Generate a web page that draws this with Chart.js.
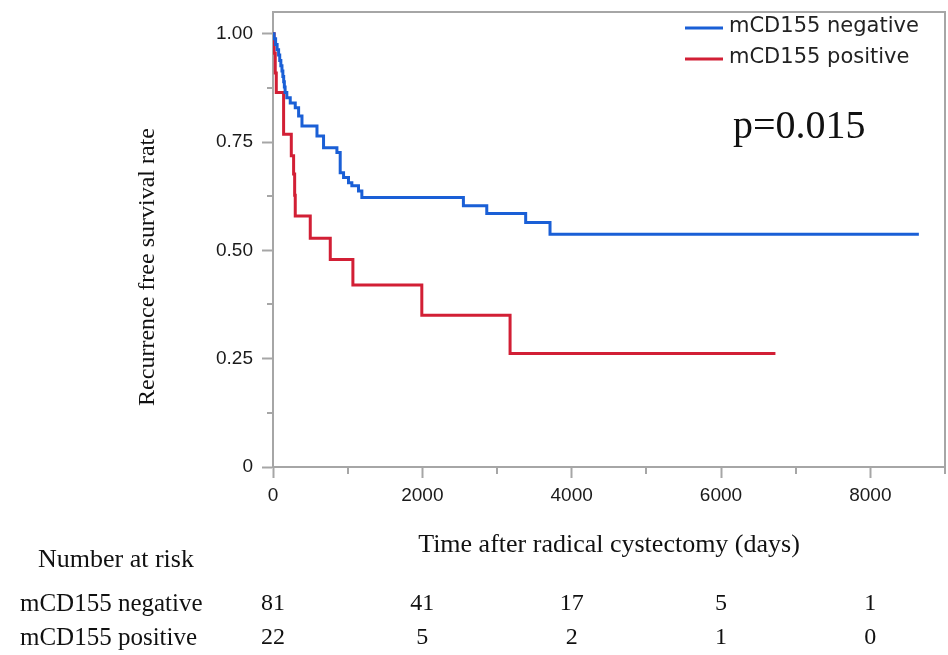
<!DOCTYPE html>
<html>
<head>
<meta charset="utf-8">
<script src="https://cdn.jsdelivr.net/npm/chart.js@4.4.1/dist/chart.umd.min.js"></script>
<style>
html, body { margin: 0; padding: 0; background: #fff; }
#wrap { width: 948px; height: 655px; }
</style>
</head>
<body>
<div id="wrap"><canvas id="kmChart" width="948" height="655"></canvas></div>
<script>
// Kaplan-Meier steps (days, survival)
var groupNames = ["mCD155 negative", "mCD155 positive"];
var groupColors = ["#1a5fd6", "#d21f35"];

var negDays = [0, 15, 35, 55, 75, 90, 105, 120, 132, 143, 152, 162, 185, 231, 298, 343, 388, 589, 677, 856, 900, 945, 1011, 1056, 1145, 1190, 2550, 2863, 3384, 3710, 8650];
var negSurv = [1.0, 0.988, 0.975, 0.963, 0.951, 0.938, 0.926, 0.914, 0.901, 0.889, 0.877, 0.864, 0.852, 0.840, 0.829, 0.810, 0.787, 0.764, 0.737, 0.726, 0.679, 0.668, 0.656, 0.649, 0.637, 0.622, 0.603, 0.585, 0.564, 0.537, 0.537];

var posDays = [0, 15, 30, 44, 142, 245, 276, 290, 298, 499, 767, 1070, 1993, 3175, 6729];
var posSurv = [1.0, 0.955, 0.909, 0.864, 0.768, 0.718, 0.676, 0.627, 0.579, 0.528, 0.479, 0.420, 0.350, 0.262, 0.262];

var xTickValues = [0, 1000, 2000, 3000, 4000, 5000, 6000, 7000, 8000, 9000];
var xMajorTicks = [0, 2000, 4000, 6000, 8000];
var yTickValues = [0, 0.125, 0.25, 0.375, 0.5, 0.625, 0.75, 0.875, 1.0];
var yMajorTicks = [0, 0.25, 0.5, 0.75, 1.0];
var yTickLabels = ["0", "0.25", "0.50", "0.75", "1.00"];

var riskDays = [0, 2000, 4000, 6000, 8000];
var riskNeg = [81, 41, 17, 5, 1];
var riskPos = [22, 5, 2, 1, 0];
var pValueText = "p=0.015";

var AXIS_GREY = "#a6a6a6";

function toPoints(xs, ys) {
    return xs.map(function (x, i) { return { x: x, y: ys[i] }; });
}

// extra drawing: frame, minor ticks, y title, legend, p value, risk table
var extras = {
    id: "extras",
    afterDraw: function (chart) {
        var c = chart.ctx;
        var a = chart.chartArea;
        var xs = chart.scales.x;
        var ys = chart.scales.y;
        c.save();

        // top and right frame
        c.strokeStyle = AXIS_GREY;
        c.lineWidth = 2;
        c.beginPath();
        c.moveTo(a.left, a.top);
        c.lineTo(a.right, a.top);
        c.lineTo(a.right, a.bottom);
        c.stroke();

        // minor ticks
        c.beginPath();
        xTickValues.forEach(function (v) {
            if (xMajorTicks.indexOf(v) < 0) {
                var px = Math.round(xs.getPixelForValue(v));
                c.moveTo(px, a.bottom);
                c.lineTo(px, a.bottom + 7);
            }
        });
        yTickValues.forEach(function (v) {
            if (yMajorTicks.indexOf(v) < 0) {
                var py = Math.round(ys.getPixelForValue(v));
                c.moveTo(a.left, py);
                c.lineTo(a.left - 6, py);
            }
        });
        c.stroke();

        // y axis title
        c.fillStyle = "#111";
        c.font = "24px 'Liberation Serif'";
        c.textAlign = "center";
        c.textBaseline = "middle";
        c.translate(148, 267);
        c.rotate(-Math.PI / 2);
        c.fillText("Recurrence free survival rate", 0, 0);
        c.setTransform(1, 0, 0, 1, 0, 0);

        // legend
        chart.data.datasets.forEach(function (ds, i) {
            var ly = 28 + 31 * i;
            c.strokeStyle = ds.borderColor;
            c.lineWidth = 3;
            c.beginPath();
            c.moveTo(685, ly);
            c.lineTo(723, ly);
            c.stroke();
            c.fillStyle = "#222";
            c.font = "21px 'DejaVu Sans'";
            c.textAlign = "left";
            c.textBaseline = "middle";
            c.fillText(ds.label, 729, ly - 1);
        });

        // p value
        c.fillStyle = "#111";
        c.font = "40px 'Liberation Serif'";
        c.textAlign = "left";
        c.textBaseline = "alphabetic";
        c.fillText(pValueText, 733, 138);

        // number at risk table
        c.textBaseline = "middle";
        c.font = "26px 'Liberation Serif'";
        c.fillText("Number at risk", 38, 560);
        c.font = "25px 'Liberation Serif'";
        c.fillText(groupNames[0], 20, 604);
        c.fillText(groupNames[1], 20, 638);
        c.font = "24px 'Liberation Serif'";
        c.textAlign = "center";
        riskDays.forEach(function (d, j) {
            var px = xs.getPixelForValue(d);
            c.fillText(String(riskNeg[j]), px, 604);
            c.fillText(String(riskPos[j]), px, 638);
        });
        c.restore();
    }
};

var ctx = document.getElementById("kmChart").getContext("2d");
var kmChart = new Chart(ctx, {
    type: "line",
    data: {
        datasets: [
            {
                label: groupNames[0],
                data: toPoints(negDays, negSurv),
                borderColor: groupColors[0],
                borderWidth: 3,
                stepped: true,
                pointRadius: 0,
                fill: false
            },
            {
                label: groupNames[1],
                data: toPoints(posDays, posSurv),
                borderColor: groupColors[1],
                borderWidth: 3,
                stepped: true,
                pointRadius: 0,
                fill: false
            }
        ]
    },
    options: {
        responsive: false,
        animation: false,
        devicePixelRatio: 1,
        layout: { padding: { top: 12, right: 3, left: 0, bottom: 0 } },
        plugins: {
            legend: { display: false },
            tooltip: { enabled: false }
        },
        scales: {
            x: {
                type: "linear",
                min: 0,
                max: 9000,
                border: { color: AXIS_GREY, width: 2 },
                grid: {
                    drawOnChartArea: false,
                    tickLength: 11,
                    tickWidth: 2,
                    tickColor: function (c) {
                        return c.tick && xMajorTicks.indexOf(c.tick.value) >= 0 ? AXIS_GREY : "rgba(0,0,0,0)";
                    }
                },
                afterBuildTicks: function (s) {
                    s.ticks = xTickValues.map(function (v) { return { value: v }; });
                },
                afterFit: function (s) {
                    s.height = 188;
                    s.paddingLeft = 0;
                    s.paddingRight = 0;
                },
                ticks: {
                    autoSkip: false,
                    maxRotation: 0,
                    padding: 6,
                    color: "#1a1a1a",
                    font: { family: "'Liberation Sans'", size: 19 },
                    callback: function (v) {
                        return xMajorTicks.indexOf(v) >= 0 ? String(v) : "";
                    }
                },
                title: {
                    display: true,
                    text: "Time after radical cystectomy (days)",
                    color: "#111",
                    font: { family: "'Liberation Serif'", size: 26 },
                    padding: { top: 0, bottom: 94 }
                }
            },
            y: {
                type: "linear",
                min: 0,
                max: 1.05,
                border: { color: AXIS_GREY, width: 2 },
                grid: {
                    drawOnChartArea: false,
                    tickLength: 11,
                    tickWidth: 2,
                    tickColor: function (c) {
                        return c.tick && yMajorTicks.indexOf(c.tick.value) >= 0 ? AXIS_GREY : "rgba(0,0,0,0)";
                    }
                },
                afterBuildTicks: function (s) {
                    s.ticks = yTickValues.map(function (v) { return { value: v }; });
                },
                afterFit: function (s) {
                    s.width = 273;
                    s.paddingTop = 0;
                    s.paddingBottom = 0;
                },
                ticks: {
                    autoSkip: false,
                    padding: 9,
                    color: "#1a1a1a",
                    font: { family: "'Liberation Sans'", size: 19 },
                    callback: function (v) {
                        var k = yMajorTicks.indexOf(v);
                        return k >= 0 ? yTickLabels[k] : "";
                    }
                }
            }
        }
    },
    plugins: [extras]
});
</script>
</body>
</html>
